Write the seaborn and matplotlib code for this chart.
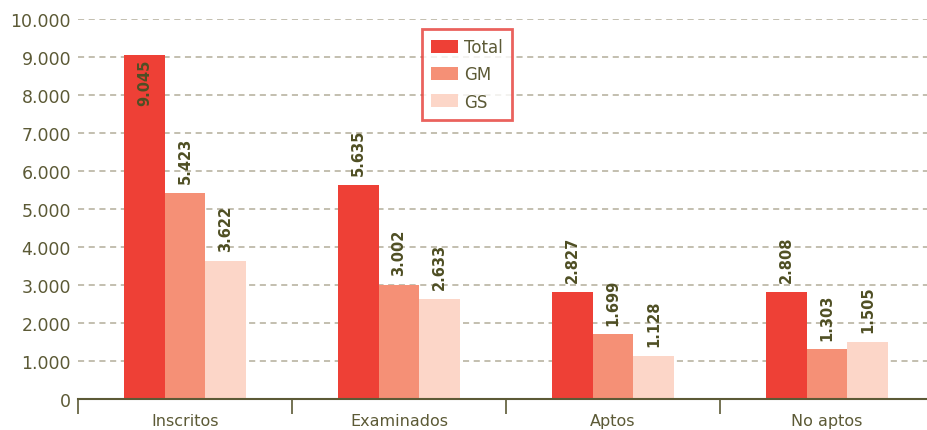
import matplotlib
matplotlib.use("Agg")
import matplotlib.pyplot as plt
import seaborn as sns
import pandas as pd
import numpy as np

categories = ["Inscritos", "Examinados", "Aptos", "No aptos"]
series = ["Total", "GM", "GS"]
total = [9045, 5635, 2827, 2808]
gm = [5423, 3002, 1699, 1303]
gs = [3622, 2633, 1128, 1505]
yticks = list(range(0, 10001, 1000))
ytick_labels = ["0", "1.000", "2.000", "3.000", "4.000", "5.000", "6.000", "7.000", "8.000", "9.000", "10.000"]

colors = ["#EE4036", "#F59076", "#FCD6C8"]
text_color = "#5C5A36"
label_color = "#4F4F24"

rows = []
for s, vals in zip(series, [total, gm, gs]):
    for c, v in zip(categories, vals):
        rows.append({"cat": c, "serie": s, "val": v})
df = pd.DataFrame(rows)

sns.set_theme(style="white")
plt.rcParams["font.family"] = ["DejaVu Sans"]

fig = plt.figure(figsize=(9.28, 4.31), dpi=100)
ax = fig.add_axes([78/928, 1 - 400/431, (934 - 78)/928, 380/431])

sns.barplot(data=df, x="cat", y="val", hue="serie", order=categories, hue_order=series,
            palette=colors, width=0.57, saturation=1, ax=ax, legend=True, linewidth=0)

ax.set_ylim(0, 10000)
ax.set_xlim(-0.5, 3.5)
ax.set_yticks(yticks)
ax.set_yticklabels(ytick_labels, color=text_color, fontsize=12.5)
ax.yaxis.grid(True, linestyle=(0, (4, 3)), color="#B3AD9A", linewidth=1.1)
ax.set_axisbelow(True)
ax.tick_params(axis="y", length=0, pad=5)
ax.set_xlabel("")
ax.set_ylabel("")

for sp in ["top", "right", "left"]:
    ax.spines[sp].set_visible(False)
ax.spines["bottom"].set_color("#5C5A36")
ax.spines["bottom"].set_linewidth(1.5)

# category boundary ticks
ax.set_xticks([-0.5, 0.5, 1.5, 2.5], minor=True)
ax.tick_params(axis="x", which="minor", bottom=True, length=11, width=1.2, color="#5C5A36", direction="out")
ax.tick_params(axis="x", which="major", bottom=False, length=0, pad=10, labelsize=11.5, labelcolor=text_color)

for container in ax.containers:
    for bar in container:
        h = bar.get_height()
        x = bar.get_x() + bar.get_width() / 2
        lbl = f"{int(h):,}".replace(",", ".")
        if h > 8500:
            ax.text(x, h - 100, lbl, rotation=90, ha="center", va="top",
                    fontsize=10.5, fontweight="bold", color=label_color)
        else:
            ax.text(x, h + 260, lbl, rotation=90, ha="center", va="bottom",
                    fontsize=10.5, fontweight="bold", color=label_color)

leg = ax.legend(loc="upper left", bbox_to_anchor=((422 - 78)/856, 1 - (30 - 20)/380),
                frameon=True, fancybox=False, fontsize=12, handlelength=1.6, handleheight=0.85,
                labelspacing=0.55, borderpad=0.55, handletextpad=0.4, borderaxespad=0)
leg.get_frame().set_edgecolor("#E53B35")
leg.get_frame().set_linewidth(2)
for t in leg.get_texts():
    t.set_color(text_color)

fig.savefig("out.png", dpi=100)
